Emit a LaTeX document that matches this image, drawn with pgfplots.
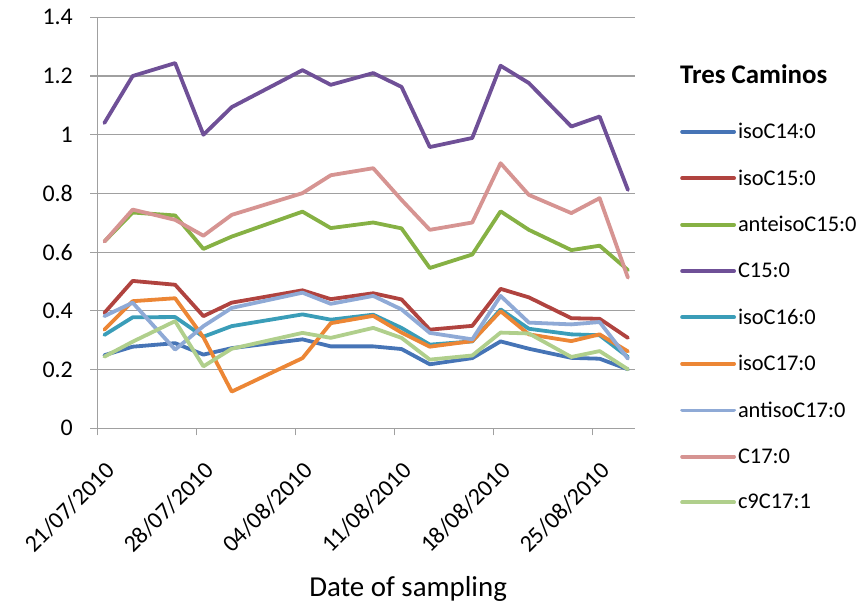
\documentclass[border=0pt]{standalone}
\usepackage{fontspec}
\setmainfont{Carlito}
\usepackage{pgfplots}
\pgfplotsset{compat=1.18}
\usepackage{pgfplotstable}
\definecolor{cA}{HTML}{4674B6}
\definecolor{cB}{HTML}{B0433F}
\definecolor{cC}{HTML}{86B144}
\definecolor{cD}{HTML}{6F5097}
\definecolor{cE}{HTML}{3A9DB8}
\definecolor{cF}{HTML}{EC8635}
\definecolor{cG}{HTML}{8FAAD6}
\definecolor{cH}{HTML}{D69492}
\definecolor{cI}{HTML}{B0CF8C}
\definecolor{gridc}{HTML}{A0A0A0}

\pgfplotstableread{
x    a     b     c     d     e     f     g     h     i
0.5  0.249 0.393 0.636 1.040 0.318 0.336 0.382 0.636 0.244
2.5  0.278 0.502 0.735 1.200 0.378 0.433 0.428 0.745 0.295
5.5  0.290 0.489 0.725 1.244 0.379 0.443 0.268 0.710 0.365
7.5  0.251 0.382 0.611 1.000 0.312 0.310 0.348 0.656 0.211
9.5  0.273 0.428 0.653 1.094 0.348 0.125 0.410 0.727 0.271
14.5 0.303 0.470 0.738 1.220 0.388 0.239 0.462 0.801 0.325
16.5 0.279 0.440 0.682 1.170 0.370 0.358 0.424 0.862 0.308
19.5 0.279 0.460 0.701 1.210 0.387 0.383 0.451 0.886 0.342
21.5 0.270 0.439 0.681 1.163 0.342 0.326 0.405 0.778 0.308
23.5 0.218 0.336 0.546 0.958 0.285 0.278 0.325 0.676 0.234
26.5 0.239 0.349 0.592 0.989 0.296 0.297 0.303 0.701 0.248
28.5 0.296 0.475 0.739 1.235 0.405 0.399 0.451 0.903 0.326
30.5 0.271 0.446 0.676 1.176 0.339 0.320 0.360 0.795 0.323
33.5 0.240 0.375 0.607 1.028 0.320 0.297 0.354 0.733 0.243
35.5 0.237 0.373 0.622 1.062 0.317 0.320 0.362 0.784 0.263
37.5 0.201 0.308 0.539 0.812 0.243 0.262 0.237 0.513 0.201
}\data

\begin{document}
\begin{tikzpicture}
\path[use as bounding box] (0,0) rectangle (863bp,606bp);
\begin{axis}[
  scale only axis,
  width=537.7bp, height=411bp,
  at={(97.3bp,177.7bp)}, anchor=south west,
  xmin=0, xmax=38, ymin=0, ymax=1.4,
  xtick={0,7,14,21,28,35},
  xticklabels={21/07/2010,28/07/2010,04/08/2010,11/08/2010,18/08/2010,25/08/2010},
  ytick={0,0.2,0.4,0.6,0.8,1,1.2,1.4},
  yticklabels={0\hspace*{14bp},0.2\hspace*{14bp},0.4\hspace*{14bp},0.6\hspace*{14bp},0.8\hspace*{14bp},1\hspace*{14bp},1.2\hspace*{14bp},1.4\hspace*{14bp}},
  ymajorgrids,
  grid style={draw=gridc, line width=1.2bp},
  axis x line*=bottom, axis y line*=left,
  axis line style={draw=gridc, line width=1.2bp, -},
  tick style={draw=gridc, line width=1.2bp},
  tick align=outside,
  major tick length=7bp,
  y tick label style={font=\fontsize{24}{26}\selectfont, anchor=east},
  x tick label style={xshift=6.7bp, yshift=-25bp, rotate=45, anchor=north east, font=\fontsize{24}{26}\selectfont, inner sep=0pt},
  /pgf/number format/assume math mode=true,
  xlabel={Date of sampling},
  xlabel style={font=\fontsize{29}{32}\selectfont, at={(axis description cs:0.578,0)}, anchor=base, yshift=-168.4bp},
  every axis plot/.append style={line width=3.8bp, line join=round, line cap=round},
  legend cell align=left,
  legend style={draw=none, fill=none, at={(axis description cs:1.0837,0.7477)}, anchor=north west,
    font=\fontsize{22.5}{24}\selectfont, row sep=25.7bp, inner sep=0pt},
  legend image code/.code={\draw[#1, line cap=round] (0bp,0bp) -- (52bp,0bp);},
]
\addplot[cA] table[x=x,y=a] {\data}; \addlegendentry{isoC14:0}
\addplot[cB] table[x=x,y=b] {\data}; \addlegendentry{isoC15:0}
\addplot[cC] table[x=x,y=c] {\data}; \addlegendentry{anteisoC15:0}
\addplot[cD] table[x=x,y=d] {\data}; \addlegendentry{C15:0}
\addplot[cE] table[x=x,y=e] {\data}; \addlegendentry{isoC16:0}
\addplot[cF] table[x=x,y=f] {\data}; \addlegendentry{isoC17:0}
\addplot[cG] table[x=x,y=g] {\data}; \addlegendentry{antisoC17:0}
\addplot[cH] table[x=x,y=h] {\data}; \addlegendentry{C17:0}
\addplot[cI] table[x=x,y=i] {\data}; \addlegendentry{c9C17:1}
\end{axis}
\node[anchor=base west, font=\bfseries\fontsize{27}{30}\selectfont, inner sep=0pt] at (680bp,522.7bp) {Tres Caminos};
\end{tikzpicture}
\end{document}
